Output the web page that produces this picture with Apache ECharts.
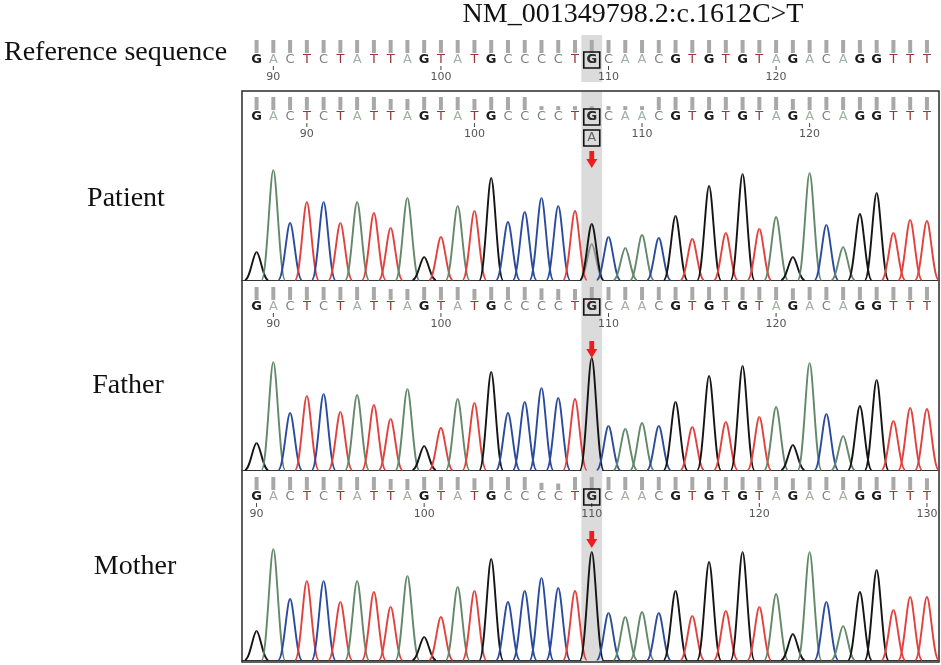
<!DOCTYPE html>
<html>
<head>
<meta charset="utf-8">
<script src="https://cdn.jsdelivr.net/npm/echarts@6/dist/echarts.min.js"></script>
<style>
  html, body { margin: 0; padding: 0; background: #fff; }
  #chart { width: 941px; height: 665px; }
</style>
</head>
<body>
<div id="chart"></div>
<script>
// sequence around the variant, first base = position 89
const bases = ['G','A','C','T','C','T','A','T','T','A','G','T','A','T','G','C','C','C','C','T',
               'G','C','A','A','C','G','T','G','T','G','T','A','G','A','C','A','G','G','T','T','T'];
const firstPos = 89;
const variantPos = 109;

// quality bars (fraction of full bar height)
const refQual     = [1,1,1,1,1,1,1,1,1,1,1,1,1,1,1,1,1,1,1,1,1,1,1,1,1,1,1,1,1,1,1,1,1,1,1,1,1,1,1,1,1];
const patientQual = [1,1,1,1,1,1,1,1,0.85,0.85,1,1,1,0.85,1,1,1,0.3,0.3,0.3,0.3,0.3,0.3,0.3,1,1,1,1,1,1,1,1,0.85,1,1,1,1,1,1,1,1];
const fatherQual  = [1,1,1,1,1,1,1,1,0.85,0.85,1,1,1,0.85,1,1,1,0.9,0.85,0.85,1,1,1,1,1,1,1,1,1,1,1,1,0.9,1,1,1,1,1,1,1,1];
const motherQual  = [1,1,1,1,1,1,1,1,0.85,0.85,1,1,1,0.9,1,1,1,0.55,0.5,1,1,1,1,1,1,1,1,1,1,1,1,1,0.9,1,1,1,1,1,1,1,0.9];

// position-number labels under each row: [base index, label]
const refTicks     = [[1,'90'],[11,'100'],[21,'110'],[31,'120']];
const patientTicks = [[3,'90'],[13,'100'],[23,'110'],[33,'120']];
const fatherTicks  = [[1,'90'],[11,'100'],[21,'110'],[31,'120']];
const motherTicks  = [[0,'90'],[10,'100'],[20,'110'],[30,'120'],[40,'130']];

// peak heights, one per base
const patientPeaks = [28,110,57,78,78,57,78,67,52,82,23,43,74,69,102,58,68,82,74,69,56,43,32,45,42,64,41,94,47,106,51,63,23,107,55,33,66,87,47,60,59];
const fatherPeaks  = [27,108,57,74,76,58,75,65,51,81,24,42,71,67,98,57,68,82,72,71,112,44,41,47,44,68,43,94,48,104,53,63,25,107,56,34,64,90,49,62,61];
const motherPeaks  = [29,111,61,79,79,58,79,68,53,84,23,43,73,69,101,58,69,82,72,69,108,47,43,48,47,69,44,98,49,108,53,66,26,108,58,34,68,90,50,63,63];
// secondary (heterozygous) peak in the patient
const patientMinor = [[109, 36]];

const peakColor   = { G: '#151515', A: '#63896a', C: '#2a4b9e', T: '#e3413e' };
const letterColor = { G: '#1c1c1c', A: '#a2b2a2', C: '#7c8086', T: '#983636' };

const X_MIN = 88.13, X_MAX = 129.72;
const serif = '"Liberation Serif", "DejaVu Serif", serif';

const chart = echarts.init(document.getElementById('chart'));

function header(qual, ticks) {
  return function (params, api) {
    const i = params.dataIndex;
    const y0 = params.coordSys.y;
    const x = api.coord([api.value(0), 0])[0];
    const b = bases[i];
    const h = 13 * qual[i];
    const kids = [
      { type: 'rect', shape: { x: x - 2, y: y0 + 13 - h, width: 4, height: h }, style: { fill: '#a8a8a8' } },
      { type: 'text', x: x, y: y0 + 20, style: {
          text: b, fill: letterColor[b], align: 'center', verticalAlign: 'middle',
          font: (b === 'G' ? 'bold ' : '') + '13px "DejaVu Sans", sans-serif' } }
    ];
    const t = ticks.find(d => d[0] === i);
    if (t) {
      kids.push({ type: 'line', shape: { x1: x, y1: y0 + 26, x2: x, y2: y0 + 30 }, style: { stroke: '#444', lineWidth: 1 } });
      kids.push({ type: 'text', x: x, y: y0 + 37, style: {
          text: t[1], fill: '#555', align: 'center', verticalAlign: 'middle', font: '11px "DejaVu Sans", sans-serif' } });
    }
    return { type: 'group', children: kids };
  };
}

function marker(boxes, arrow) {
  return function (params, api) {
    const y0 = params.coordSys.y;
    const x = api.coord([api.value(0), 0])[0];
    const kids = boxes.map((b, k) => ({
      type: 'group', children: [
        { type: 'rect', shape: { x: x - 8, y: y0 + 12 + k * 21, width: 16, height: 16 },
          style: { fill: 'none', stroke: '#111', lineWidth: 1.6 } },
        { type: 'text', x: x, y: y0 + 20 + k * 21, style: {
            text: b, fill: k ? '#666' : '#333', align: 'center', verticalAlign: 'middle', font: '13px "DejaVu Sans", sans-serif' } }
      ]
    }));
    if (arrow) {
      kids.push({ type: 'polygon', shape: { points: [
          [x - 2.4, y0 + 54], [x + 2.4, y0 + 54], [x + 2.4, y0 + 62], [x + 5.5, y0 + 62],
          [x, y0 + 71], [x - 5.5, y0 + 62], [x - 2.4, y0 + 62]] },
        style: { fill: '#ee1d1d' } });
    }
    return { type: 'group', children: kids };
  };
}

// one chromatogram peak: two cubic halves from the baseline up to the apex and back
function peak(colorOf) {
  return function (params, api) {
    const pos = api.value(0), h = api.value(1);
    const w = 0.7;
    const a = api.coord([pos - w, 0]);
    const top = api.coord([pos, h]);
    const c = api.coord([pos + w, 0]);
    const dx = top[0] - a[0];
    const style = { stroke: colorOf(params.dataIndex), lineWidth: 1.9, fill: null, lineJoin: 'round' };
    return { type: 'group', children: [
      { type: 'bezierCurve', shape: { x1: a[0], y1: a[1], cpx1: a[0] + 0.45 * dx, cpy1: a[1],
          cpx2: top[0] - 0.28 * dx, cpy2: top[1], x2: top[0], y2: top[1] }, style: style },
      { type: 'bezierCurve', shape: { x1: top[0], y1: top[1], cpx1: top[0] + 0.28 * dx, cpy1: top[1],
          cpx2: c[0] - 0.45 * dx, cpy2: c[1], x2: c[0], y2: c[1] }, style: style }
    ] };
  };
}

function column(yFrom, yTo) {
  return function (params, api) {
    const cs = params.coordSys;
    const x1 = api.coord([api.value(0) - 0.62, 0])[0];
    const x2 = api.coord([api.value(0) + 0.62, 0])[0];
    const y1 = yFrom == null ? cs.y + 1 : cs.y + yFrom;
    const y2 = yTo == null ? cs.y + cs.height - 1 : cs.y + yTo;
    return { type: 'rect', shape: { x: x1, y: y1, width: x2 - x1, height: y2 - y1 }, style: { fill: '#dbdbdb' } };
  };
}

const seqData = qual => bases.map((b, i) => [firstPos + i, qual[i]]);
const peakData = hs => hs.map((h, i) => [firstPos + i, h]);

const gridDefs = [
  { top: 40,  height: 45 },   // 0 reference header
  { top: 91,  height: 571, show: true, borderColor: '#2a2a2a', borderWidth: 1.5 }, // 1 frame
  { top: 97,  height: 45 },   // 2 patient header
  { top: 160, height: 120 },  // 3 patient trace
  { top: 287, height: 45 },   // 4 father header
  { top: 350, height: 120 },  // 5 father trace
  { top: 477, height: 45 },   // 6 mother header
  { top: 540, height: 120 }   // 7 mother trace
];
const traceGrids = [3, 5, 7];
const labelFont = { fontFamily: serif, fontSize: 28, fontWeight: 'normal', color: '#111' };

const option = {
  backgroundColor: '#fff',
  animation: false,
  title: [
    { text: 'NM_001349798.2:c.1612C>T', left: 633, top: 1, textAlign: 'center', padding: 0, textStyle: labelFont },
    { text: 'Reference sequence', left: 4, top: 39, padding: 0, textStyle: labelFont },
    { text: 'Patient', left: 126, top: 185, textAlign: 'center', padding: 0, textStyle: labelFont },
    { text: 'Father', left: 128, top: 372, textAlign: 'center', padding: 0, textStyle: labelFont },
    { text: 'Mother', left: 135, top: 553, textAlign: 'center', padding: 0, textStyle: labelFont }
  ],
  grid: gridDefs.map(g => Object.assign({ left: 242, right: 2, containLabel: false }, g)),
  xAxis: gridDefs.map((g, k) => ({
    type: 'value', gridIndex: k, min: X_MIN, max: X_MAX,
    show: traceGrids.includes(k),
    axisLine: { show: true, onZero: true, lineStyle: { color: '#333', width: 1 } },
    axisTick: { show: false }, axisLabel: { show: false }, splitLine: { show: false }
  })),
  yAxis: gridDefs.map((g, k) => ({
    type: 'value', gridIndex: k, min: 0, max: traceGrids.includes(k) ? 120 : 1, show: false
  })),
  series: [
    // highlighted variant column
    { type: 'custom', xAxisIndex: 0, yAxisIndex: 0, z: 1, data: [[variantPos]], renderItem: column(-5, 42) },
    { type: 'custom', xAxisIndex: 1, yAxisIndex: 1, z: 1, data: [[variantPos]], renderItem: column(null, null) },
    // sequence rows
    { type: 'custom', xAxisIndex: 0, yAxisIndex: 0, z: 3, data: seqData(refQual), renderItem: header(refQual, refTicks) },
    { type: 'custom', xAxisIndex: 2, yAxisIndex: 2, z: 3, data: seqData(patientQual), renderItem: header(patientQual, patientTicks) },
    { type: 'custom', xAxisIndex: 4, yAxisIndex: 4, z: 3, data: seqData(fatherQual), renderItem: header(fatherQual, fatherTicks) },
    { type: 'custom', xAxisIndex: 6, yAxisIndex: 6, z: 3, data: seqData(motherQual), renderItem: header(motherQual, motherTicks) },
    // boxed calls and arrows
    { type: 'custom', xAxisIndex: 0, yAxisIndex: 0, z: 4, data: [[variantPos]], renderItem: marker(['G'], false) },
    { type: 'custom', xAxisIndex: 2, yAxisIndex: 2, z: 4, data: [[variantPos]], renderItem: marker(['G', 'A'], true) },
    { type: 'custom', xAxisIndex: 4, yAxisIndex: 4, z: 4, data: [[variantPos]], renderItem: marker(['G'], true) },
    { type: 'custom', xAxisIndex: 6, yAxisIndex: 6, z: 4, data: [[variantPos]], renderItem: marker(['G'], true) },
    // traces
    { type: 'custom', xAxisIndex: 3, yAxisIndex: 3, z: 2, data: patientMinor, renderItem: peak(i => '#8a8f8a') },
    { type: 'custom', xAxisIndex: 3, yAxisIndex: 3, z: 2, data: peakData(patientPeaks), renderItem: peak(i => peakColor[bases[i]]) },
    { type: 'custom', xAxisIndex: 5, yAxisIndex: 5, z: 2, data: peakData(fatherPeaks), renderItem: peak(i => peakColor[bases[i]]) },
    { type: 'custom', xAxisIndex: 7, yAxisIndex: 7, z: 2, data: peakData(motherPeaks), renderItem: peak(i => peakColor[bases[i]]) }
  ]
};

chart.setOption(option);
</script>
</body>
</html>
